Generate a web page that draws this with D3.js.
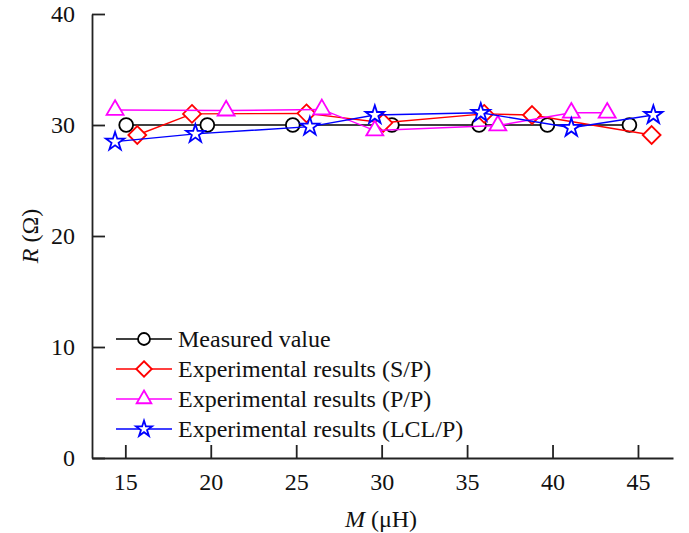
<!DOCTYPE html>
<html>
<head>
<meta charset="utf-8">
<script src="https://cdn.jsdelivr.net/npm/d3@7"></script>
<style>
  body { margin: 0; background: #fff; }
  svg text { font-family: "Liberation Serif", "Times New Roman", serif; }
</style>
</head>
<body>
<svg id="chart" width="689" height="533"></svg>
<script>
// values
const measuredM = [15.05, 19.8, 24.8, 30.6, 35.7, 39.7, 44.5];
const measuredR = [30, 30, 30, 30, 30, 30, 30];

const spM = [15.7, 18.9, 25.6, 30.1, 36.0, 38.8, 45.8];
const spR = [29.1, 31.0, 31.05, 30.2, 31.0, 30.9, 29.1];

const ppM = [14.4, 20.9, 26.5, 29.6, 36.8, 41.1, 43.2];
const ppR = [31.35, 31.3, 31.4, 29.5, 29.95, 31.1, 31.1];

const lclM = [14.4, 19.1, 25.8, 29.6, 35.8, 41.1, 45.9];
const lclR = [28.5, 29.2, 29.85, 30.9, 31.1, 29.75, 30.9];

const xTicks = [15, 20, 25, 30, 35, 40, 45];
const yTicks = [0, 10, 20, 30, 40];

const seriesNames = ["Measured value", "Experimental results (S/P)",
  "Experimental results (P/P)", "Experimental results (LCL/P)"];

const svg = d3.select("#chart");

const xScale = d3.scaleLinear().domain([13.05, 47.05]).range([92, 673]);
const yScale = d3.scaleLinear().domain([0, 40]).range([458, 14]);

// symbols
const diamond = {
  draw(ctx, size) {
    const r = Math.sqrt(size / 2);
    ctx.moveTo(0, -r); ctx.lineTo(r, 0); ctx.lineTo(0, r); ctx.lineTo(-r, 0); ctx.closePath();
  }
};

const series = [
  { name: seriesNames[0], xs: measuredM, ys: measuredR, color: "#000000", sym: d3.symbolCircle, size: 150 },
  { name: seriesNames[1], xs: spM, ys: spR, color: "#ff0000", sym: diamond, size: 160 },
  { name: seriesNames[2], xs: ppM, ys: ppR, color: "#ff00ff", sym: d3.symbolTriangle, size: 125 },
  { name: seriesNames[3], xs: lclM, ys: lclR, color: "#0000ff", sym: d3.symbolStar, size: 105 }
];

// axes
const xAxis = svg.append("g")
  .attr("transform", "translate(0," + yScale(0) + ")")
  .call(d3.axisBottom(xScale).tickValues(xTicks).tickSizeInner(-13).tickSizeOuter(0).tickPadding(15));

const yAxis = svg.append("g")
  .attr("transform", "translate(" + xScale.range()[0] + ",0)")
  .call(d3.axisLeft(yScale).tickValues(yTicks).tickSizeInner(-13).tickSizeOuter(0).tickPadding(17));

[xAxis, yAxis].forEach(a => {
  a.select(".domain").attr("stroke", "#222").attr("stroke-width", 1.8);
  a.selectAll(".tick line").attr("stroke", "#222").attr("stroke-width", 1.8);
  a.selectAll(".tick text").attr("fill", "#111").style("font-size", "24px");
});

// axis titles
svg.append("text")
  .attr("x", 381).attr("y", 527)
  .attr("text-anchor", "middle")
  .style("font-size", "24px")
  .attr("fill", "#111")
  .html('<tspan font-style="italic">M</tspan> (μH)');

svg.append("text")
  .attr("transform", "translate(38,236) rotate(-90)")
  .attr("text-anchor", "middle")
  .style("font-size", "24px")
  .attr("fill", "#111")
  .html('<tspan font-style="italic">R</tspan> (Ω)');

// series
const line = d3.line().x(d => xScale(d[0])).y(d => yScale(d[1]));

series.forEach(s => {
  const pts = s.xs.map((x, i) => [x, s.ys[i]]);
  const g = svg.append("g");
  g.append("path")
    .attr("d", line(pts))
    .attr("fill", "none")
    .attr("stroke", s.color)
    .attr("stroke-width", 1.4);
  g.selectAll("path.pt")
    .data(pts)
    .enter()
    .append("path")
      .attr("class", "pt")
      .attr("transform", d => "translate(" + xScale(d[0]) + "," + yScale(d[1]) + ")")
      .attr("d", d3.symbol(s.sym, s.size))
      .attr("fill", "#fff")
      .attr("stroke", s.color)
      .attr("stroke-width", 1.8);
});

// legend
const legend = svg.append("g");
series.forEach((s, i) => {
  const y = 339 + i * 30;
  legend.append("line")
    .attr("x1", 116).attr("x2", 172).attr("y1", y).attr("y2", y)
    .attr("stroke", s.color).attr("stroke-width", 1.4);
  legend.append("path")
    .attr("transform", "translate(144," + y + ")")
    .attr("d", d3.symbol(s.sym, s.size * 0.75))
    .attr("fill", "#fff")
    .attr("stroke", s.color)
    .attr("stroke-width", 1.8);
  legend.append("text")
    .attr("x", 178).attr("y", y)
    .attr("dy", "0.35em")
    .style("font-size", "24px")
    .attr("fill", "#111")
    .text(s.name);
});
</script>
</body>
</html>
